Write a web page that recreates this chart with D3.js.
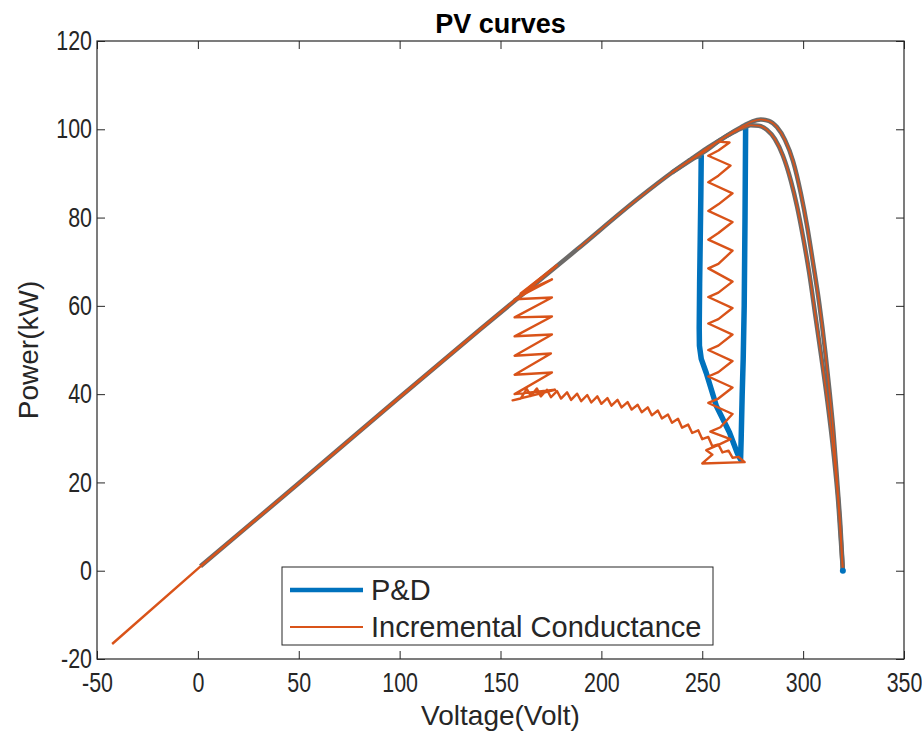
<!DOCTYPE html>
<html><head><meta charset="utf-8">
<script src="https://cdn.jsdelivr.net/npm/d3@7"></script>
<style>body{margin:0;background:#fff}svg{display:block}</style>
</head><body><svg id="c" width="922" height="735"></svg>
<script>
// ---- data ----
const xTicks=[-50,0,50,100,150,200,250,300,350];
const yTicks=[-20,0,20,40,60,80,100,120];
// reference PV curves (grey)
const pvOuterV=[1.3,50,100,140,188,219,235,245,252,260,266,271,275,279,283,287,291,295,299,302,305,308,311,313,315,317,318.5,319.7];
const pvOuterP=[1,19.8,39.3,54.7,72.8,84.6,90.2,93.4,95.6,97.9,99.6,100.9,101.8,102.2,101.9,100.5,97.6,92.8,85.2,78,69.5,60.5,49.5,41,31.5,19.5,10,0];
const pvInnerV=[235,245,252,259,265,270,274,278,282,286,290,294,297,300,303,306,309,312,315,317.5,319.7];
const pvInnerP=[90.2,93.2,95.2,97.6,99.2,100.3,100.9,100.8,99.9,97.8,94,88.2,82.5,75.5,67.5,58,48.5,38.5,27,15,0];
const hookV=[243,249.5];
const hookP=[93.0,93.9];
// P&D trajectory
const pdV=[249.5,249.3,249.0,248.7,248.5,248.6,249.5,252,257,263.5,267.5,269,269.3,269.8,270.3,270.8,271.2,271.5];
const pdP=[93.9,85,75,65,55,51,48,44.8,37.3,31.3,26.5,25.2,30,40,48,60,80,100.4];
const pdEndV=[319.7];
const pdEndP=[0];
// Incremental Conductance trajectory
const icV=[-42.5,1.3,50,100,140,178,
 160,175.5,157,175.5,157,175.5,157,175.5,157,175,157,175.5,157,177,156,
 160,163,165,168,170,173,175,178,180,183,185,188,190,193,195,198,200,203,205,208,210,213,215,218,220,223,225,228,230,233,235,238,240,243,245,248,250,253,255,258,260,263,265,268,271,
 250,255,252,
 258,264,254,259,265,253,258,265,253,258,265,253,258,265,253,258,265,253,258,265,253,258,265,253,258,265,253,258,265,253,258,264,253,258,263.5,258];
const icP=[-16.6,1,19.8,39.3,54.7,69.2,
 62.8,66,61.5,61.9,57.4,57.6,53.1,53.5,48.7,49.2,44.4,44.9,40,41,38.6,
 39.0,41.2,39.6,41.3,39.5,41.0,39.3,40.7,39.0,40.4,38.7,40.1,38.4,39.8,38.1,39.5,37.8,39.1,37.4,38.7,37.0,38.2,36.5,37.6,35.9,37.0,35.2,36.3,34.5,35.4,33.5,34.4,32.4,33.1,31.2,31.8,29.8,30.3,28.2,28.6,26.8,27.2,25.6,25.8,24.6,
 24.3,26.3,27.3,
 28.5,29.8,31.5,32.5,35.5,38,39,41.5,44,45,47.5,50,51,53.5,56,57,59.5,62,63,65.5,68.5,69.5,72.5,75,76.5,79,81.5,83,85.5,88,89.5,91.8,94,95.2,97,97.2];
const legendLabels=["P&D","Incremental Conductance"];

// ---- drawing ----
const FONT='"Liberation Sans", Arial, Helvetica, sans-serif';
const TXT='#262626';
const BLUE='#0072BD', ORANGE='#D95319', GREY='#6c6a68';
const svg=d3.select('#c');
const L=97,R=904,T=41,B=659;
const x=d3.scaleLinear().domain([-50,350]).range([L,R]);
const y=d3.scaleLinear().domain([-20,120]).range([B,T]);
const pts=(V,P)=>V.map((v,i)=>[v,P[i]]);
const line=d3.line().x(d=>x(d[0])).y(d=>y(d[1]));
const smooth=d3.line().x(d=>x(d[0])).y(d=>y(d[1])).curve(d3.curveMonotoneX);

svg.append('rect').attr('width',922).attr('height',735).attr('fill','#fff');

const plot=svg.append('g');
// P&D (blue)
plot.append('path').datum(pts(pdV,pdP)).attr('d',line).attr('fill','none')
 .attr('stroke',BLUE).attr('stroke-width',5.5).attr('stroke-linejoin','round').attr('stroke-linecap','round');
// grey PV curves
[pts(pvOuterV,pvOuterP),pts(pvInnerV,pvInnerP)].forEach(d=>{
 plot.append('path').datum(d).attr('d',smooth).attr('fill','none')
  .attr('stroke',GREY).attr('stroke-width',4.5).attr('stroke-linejoin','round');
});
plot.append('path').datum(pts(hookV,hookP)).attr('d',line).attr('fill','none')
 .attr('stroke',GREY).attr('stroke-width',3);
// IC trajectory (orange)
plot.append('path').datum(pts(icV,icP)).attr('d',line).attr('fill','none')
 .attr('stroke',ORANGE).attr('stroke-width',2.4).attr('stroke-linejoin','round');
// orange over PV curves
[pts(pvOuterV,pvOuterP).filter(d=>d[0]>=188),pts(pvInnerV,pvInnerP)].forEach(d=>{
 plot.append('path').datum(d).attr('d',smooth).attr('fill','none')
  .attr('stroke',ORANGE).attr('stroke-width',1.6);
});
// P&D end point
plot.selectAll('circle.end').data(pts(pdEndV,pdEndP)).join('circle')
 .attr('cx',d=>x(d[0])).attr('cy',d=>y(d[1])).attr('r',3).attr('fill',BLUE);

// axes
const fmt=d=>String(d);
const gx=svg.append('g').attr('transform',`translate(0,${B})`)
 .call(d3.axisBottom(x).tickValues(xTicks).tickSizeInner(-8).tickSizeOuter(0).tickPadding(13).tickFormat(fmt));
const gy=svg.append('g').attr('transform',`translate(${L},0)`)
 .call(d3.axisLeft(y).tickValues(yTicks).tickSizeInner(-8).tickSizeOuter(0).tickPadding(6).tickFormat(fmt));
const gt=svg.append('g').attr('transform',`translate(0,${T})`)
 .call(d3.axisTop(x).tickValues(xTicks).tickSizeInner(-8).tickSizeOuter(0).tickFormat(''));
const gr=svg.append('g').attr('transform',`translate(${R},0)`)
 .call(d3.axisRight(y).tickValues(yTicks).tickSizeInner(-8).tickSizeOuter(0).tickFormat(''));
[gx,gy,gt,gr].forEach(g=>{
 g.attr('font-family',FONT).attr('font-size',25.5).attr('color',TXT);
 g.select('.domain').remove();
 g.selectAll('line').attr('stroke',TXT).attr('stroke-width',1);
});
gx.selectAll('text').attr('transform','scale(0.84,1.05)');
gy.selectAll('text').attr('transform','scale(0.84,1.05)');
svg.append('rect').attr('x',L).attr('y',T).attr('width',R-L).attr('height',B-T)
 .attr('fill','none').attr('stroke',TXT).attr('stroke-width',1.2);

// title & labels
svg.append('text').attr('x',(L+R)/2).attr('y',33).attr('text-anchor','middle')
 .attr('font-family',FONT).attr('font-size',27).attr('font-weight','bold').attr('fill','#000').text('PV curves');
svg.append('text').attr('x',(L+R)/2).attr('y',725).attr('text-anchor','middle')
 .attr('font-family',FONT).attr('font-size',28).attr('fill',TXT).text('Voltage(Volt)');
svg.append('text').attr('transform',`translate(38,${(T+B)/2}) rotate(-90)`).attr('text-anchor','middle')
 .attr('font-family',FONT).attr('font-size',28).attr('fill',TXT).text('Power(kW)');

// legend
const lg=svg.append('g');
lg.append('rect').attr('x',282).attr('y',567).attr('width',431).attr('height',78)
 .attr('fill','#fff').attr('stroke',TXT).attr('stroke-width',1);
const lstyle=[{c:BLUE,w:4.5},{c:ORANGE,w:1.8}];
legendLabels.forEach((t,i)=>{
 const yy=590+i*37;
 lg.append('line').attr('x1',290).attr('x2',363).attr('y1',yy).attr('y2',yy)
  .attr('stroke',lstyle[i].c).attr('stroke-width',lstyle[i].w);
 lg.append('text').attr('x',371).attr('y',yy+10).attr('font-family',FONT).attr('font-size',29)
  .attr('fill',TXT).text(t);
});
</script></body></html>
